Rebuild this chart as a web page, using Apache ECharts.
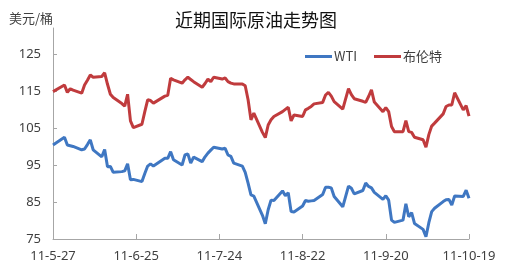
<!DOCTYPE html>
<html><head><meta charset="utf-8">
<script src="https://cdn.jsdelivr.net/npm/echarts@6/dist/echarts.min.js"></script>
<style>html,body{margin:0;padding:0;background:#fff}#c{width:517px;height:269px}</style>
</head><body><div id="c"></div>
<script>
const dates = ['5-27','5-31',
'6-1','6-2','6-3','6-6','6-7','6-8','6-9','6-10','6-13','6-14','6-15','6-16','6-17','6-20','6-21','6-22','6-23','6-24','6-27','6-28','6-29','6-30',
'7-1','7-5','7-6','7-7','7-8','7-11','7-12','7-13','7-14','7-15','7-18','7-19','7-20','7-21','7-22','7-25','7-26','7-27','7-28','7-29',
'8-1','8-2','8-3','8-4','8-5','8-8','8-9','8-10','8-11','8-12','8-15','8-16','8-17','8-18','8-19','8-22','8-23','8-24','8-25','8-26','8-29','8-30','8-31',
'9-1','9-2','9-5','9-7','9-8','9-9','9-12','9-13','9-14','9-15','9-16','9-19','9-20','9-21','9-22','9-23','9-26','9-27','9-28','9-29','9-30',
'10-3','10-4','10-5','10-6','10-7','10-10','10-11','10-12','10-13','10-14','10-17','10-18','10-19'];
const wti = [100.4,102.5,
100.4,100.2,100.0,99.1,99.3,100.5,101.8,99.1,97.2,99.2,94.5,94.6,93.0,93.2,93.4,95.3,91.0,91.1,90.5,92.7,94.7,95.3,
94.7,96.8,96.8,98.6,96.4,95.0,97.7,98.0,95.5,97.1,95.9,97.2,98.2,99.0,99.8,99.3,99.5,97.7,97.3,95.5,
94.7,93.0,90.1,86.9,86.6,81.4,79.1,82.9,85.5,85.4,88.0,86.7,87.5,82.4,82.3,83.9,85.4,85.2,85.3,85.4,87.0,89.0,89.0,
88.8,86.5,83.7,89.3,88.7,87.2,88.1,90.1,89.2,88.8,87.6,85.7,86.7,85.5,80.1,79.5,80.1,84.5,81.0,82.1,79.2,
77.6,75.6,79.4,82.4,83.3,85.1,85.6,85.7,84.2,86.6,86.5,88.2,86.0];
const brent = [114.8,116.6,
114.6,115.6,115.2,114.4,116.6,117.9,119.3,118.7,118.9,119.9,116.8,114.1,113.2,111.6,110.9,114.1,106.9,105.1,106.0,109.4,112.6,112.4,
111.7,113.6,113.8,118.4,118.0,117.1,118.0,118.7,118.1,117.5,116.0,117.0,118.2,117.5,118.7,118.2,118.5,117.5,117.1,116.9,
116.9,116.4,112.6,107.2,109.0,103.8,102.4,105.8,107.2,108.1,109.4,110.0,110.6,106.9,108.5,108.1,109.9,110.3,110.8,111.5,111.9,113.9,114.6,
113.6,112.1,110.1,115.6,114.0,112.9,112.2,111.9,113.5,115.3,112.0,109.4,110.5,109.4,105.4,104.0,104.0,107.0,104.0,103.8,102.5,
101.8,99.8,103.2,105.5,106.3,108.8,110.8,111.2,111.2,114.5,109.9,111.0,108.2];
const xTickLabels = ['11-5-27','11-6-25','11-7-24','11-8-22','11-9-20','11-10-19'];
const yTicks = [75,85,95,105,115,125];
const seriesNames = ['WTI','布伦特'];

const base = Date.UTC(2011,4,27);
function dayOf(s){const p=s.split('-');return (Date.UTC(2011,+p[0]-1,+p[1])-base)/86400000;}
const days = dates.map(dayOf);
const toPairs = arr => arr.map((v,i)=>[days[i],v]);

const chart = echarts.init(document.getElementById('c'));
const axisColor = '#a6a6a6';
const txt = '#404040';
chart.setOption({
  animation:false,
  backgroundColor:'#fff',
  title:[
    {text:'近期国际原油走势图',left:251,top:6,textAlign:'center',textStyle:{fontFamily:'Noto Sans CJK SC',fontSize:18,fontWeight:'normal',color:'#111'}},
    {text:'美元/桶',left:4,top:7,textStyle:{fontFamily:'Noto Sans CJK SC',fontSize:13,fontWeight:'normal',color:txt}}
  ],
  legend:{data:seriesNames,left:300,top:45,icon:'rect',itemWidth:27,itemHeight:3,itemGap:17,
    textStyle:{fontFamily:'Noto Sans CJK SC',fontSize:13,color:txt,padding:[0,0,0,-3]}},
  grid:{left:53,right:48,top:28,bottom:30,containLabel:false},
  xAxis:{type:'value',min:0,max:145,interval:29,
    axisLine:{lineStyle:{color:axisColor}},
    axisTick:{inside:true,length:5,lineStyle:{color:axisColor}},
    splitLine:{show:false},
    axisLabel:{margin:11,fontFamily:'Noto Sans',fontSize:13,color:txt,
      formatter:v=>xTickLabels[Math.round(v/29)]||''}},
  yAxis:{type:'value',min:75,max:132,interval:10,
    axisLine:{show:true,lineStyle:{color:axisColor}},
    axisTick:{show:true,inside:true,length:4,customValues:yTicks,lineStyle:{color:axisColor}},
    splitLine:{show:false},
    axisLabel:{margin:12,fontFamily:'Noto Sans',fontSize:13,color:txt,customValues:yTicks}},
  series:[
    {name:seriesNames[0],type:'line',data:toPairs(wti),showSymbol:false,symbol:'none',
      lineStyle:{width:3,color:'#3F77C2'},itemStyle:{color:'#3F77C2'}},
    {name:seriesNames[1],type:'line',data:toPairs(brent),showSymbol:false,symbol:'none',
      lineStyle:{width:3,color:'#C03B3D'},itemStyle:{color:'#C03B3D'}}
  ]
});
</script></body></html>
